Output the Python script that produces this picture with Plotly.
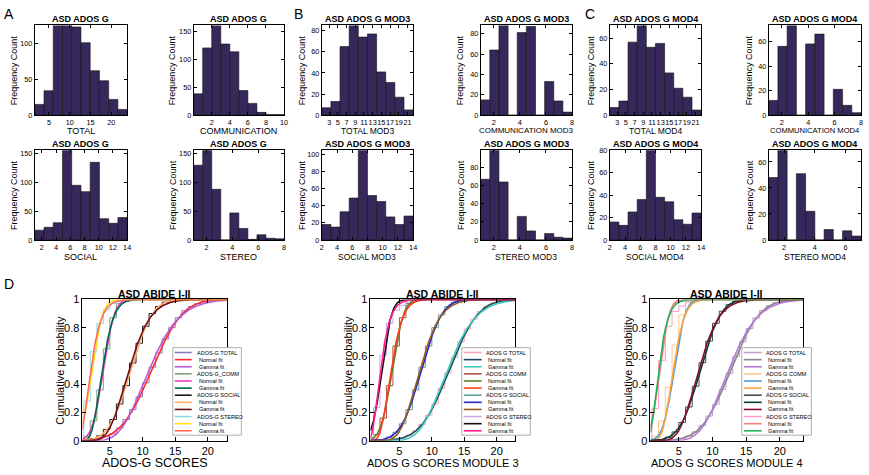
import math
import numpy as np
import plotly.graph_objects as go

W, H = 869, 475

# ---------------- DATA ----------------
# Histogram counts (10 bins each) read from panels A, B, C
A_TOTAL = [15, 34, 135, 132, 123, 101, 62, 48, 22, 8]
A_COMM = [38, 120, 165, 127, 113, 44, 21, 5, 1, 1]
A_SOCIAL = [17, 22, 30, 165, 95, 84, 135, 37, 29, 39]
A_STEREO = [130, 165, 88, 0, 47, 20, 1, 9, 3, 2]
B_TOTAL = [7, 13, 65, 88, 74, 77, 41, 31, 17, 5]
B_COMM = [15, 64, 92, 0, 81, 87, 0, 33, 14, 3]
B_SOCIAL = [18, 15, 33, 49, 110, 52, 45, 27, 18, 28]
B_STEREO = [67, 105, 64, 0, 26, 10, 0, 7, 3, 2]
C_TOTAL = [6, 11, 57, 72, 53, 56, 33, 21, 14, 4]
C_COMM = [12, 56, 76, 0, 58, 66, 0, 21, 8, 2]
C_SOCIAL = [16, 13, 25, 36, 85, 38, 34, 18, 14, 24]
C_STEREO = [48, 72, 0, 51, 22, 0, 8, 0, 7, 3]

# Score extent covered by the 10 histogram bins
A_RANGES = [(1.6, 23.8), (0, 10), (1, 14), (1, 8)]
B_RANGES = [(1.3, 22.3), (1, 8), (2, 14), (1, 8)]
C_RANGES = [(1.3, 22.3), (1, 8), (2, 14), (1, 7)]

# Empirical cumulative probabilities (panel D), first score and value at each integer score
D1_ECDF_START = [2, 1, 1, 1]   # TOTAL, COMM, SOCIAL, STEREO
D1_ECDF_TOTAL = [0.01, 0.02, 0.03, 0.05, 0.09, 0.15, 0.22, 0.31, 0.41, 0.52, 0.62, 0.72,
                 0.80, 0.87, 0.92, 0.95, 0.97, 0.985, 0.993, 0.997, 0.999, 1.0]
D1_ECDF_COMM = [0.03, 0.14, 0.36, 0.65, 0.87, 0.97, 0.99, 0.998, 1.0]
D1_ECDF_SOCIAL = [0.005, 0.015, 0.035, 0.08, 0.15, 0.26, 0.39, 0.55, 0.69, 0.81, 0.90,
                  0.95, 0.98, 0.99, 1.0]
D1_ECDF_STEREO = [0.28, 0.63, 0.83, 0.93, 0.97, 0.99, 0.996, 1.0]

D2_ECDF_START = [3, 1, 2, 1]
D2_ECDF_TOTAL = [0.004, 0.01, 0.02, 0.04, 0.07, 0.115, 0.18, 0.26, 0.37, 0.48, 0.59, 0.70,
                 0.79, 0.86, 0.915, 0.95, 0.974, 0.987, 0.994, 0.997, 1.0]
D2_ECDF_COMM = [0.044, 0.16, 0.39, 0.67, 0.87, 0.97, 0.995, 1.0]
D2_ECDF_SOCIAL = [0.009, 0.025, 0.06, 0.12, 0.22, 0.36, 0.52, 0.67, 0.80, 0.89, 0.95,
                  0.98, 0.993, 1.0]
D2_ECDF_STEREO = [0.236, 0.606, 0.831, 0.923, 0.958, 0.982, 0.993, 1.0]

D3_ECDF_START = [3, 1, 2, 1]
D3_ECDF_TOTAL = [0.003, 0.008, 0.017, 0.034, 0.063, 0.108, 0.174, 0.258, 0.363, 0.476,
                 0.595, 0.702, 0.794, 0.869, 0.921, 0.956, 0.977, 0.989, 0.995, 0.998, 1.0]
D3_ECDF_COMM = [0.032, 0.14, 0.378, 0.677, 0.891, 0.977, 0.997, 1.0]
D3_ECDF_SOCIAL = [0.009, 0.025, 0.062, 0.129, 0.239, 0.386, 0.552, 0.705, 0.831, 0.916,
                  0.963, 0.986, 0.996, 1.0]
D3_ECDF_STEREO = [0.227, 0.569, 0.81, 0.915, 0.953, 0.986, 1.0]

# Fitted distributions (order: TOTAL, COMM, SOCIAL, STEREO)
D1_NORM_MU = [11.4, 4.0, 8.2, 2.3]
D1_NORM_SD = [3.7, 1.35, 2.6, 1.3]
D1_GAM_K = [9.49, 8.78, 9.95, 3.13]
D1_GAM_TH = [1.20, 0.456, 0.824, 0.735]

D2_NORM_MU = [12.7, 3.9, 8.4, 2.3]
D2_NORM_SD = [3.5, 1.4, 2.5, 1.2]
D2_GAM_K = [13.17, 7.76, 11.29, 3.67]
D2_GAM_TH = [0.965, 0.503, 0.744, 0.626]

D3_NORM_MU = [12.7, 4.3, 8.2, 2.2]
D3_NORM_SD = [3.4, 1.3, 2.4, 1.1]
D3_GAM_K = [13.95, 10.94, 11.67, 4.0]
D3_GAM_TH = [0.910, 0.393, 0.702, 0.55]

HIST_TITLES = ["ASD ADOS G", "ASD ADOS G MOD3", "ASD ADOS G MOD4"]
HIST_XLABELS = [
    ["TOTAL", "COMMUNICATION", "SOCIAL", "STEREO"],
    ["TOTAL MOD3", "COMMUNICATION MOD3", "SOCIAL MOD3", "STEREO MOD3"],
    ["TOTAL MOD4", "COMMUNICATION MOD4", "SOCIAL MOD4", "STEREO MOD4"],
]
D_XLABELS = ["ADOS-G SCORES", "ADOS G SCORES MODULE 3", "ADOS G SCORES MODULE 4"]
D_LEGENDS = [
    ["ADOS-G TOTAL", "Normal fit", "Gamma fit", "ADOS-G_COMM", "Normal fit", "Gamma fit",
     "ADOS-G SOCIAL", "Normal fit", "Gamma fit", "ADOS-G STEREO", "Normal fit", "Gamma fit"],
    ["ADOS G TOTAL", "Normal fit", "Gamma fit", "ADOS G COMM", "Normal fit", "Gamma fit",
     "ADOS G SOCIAL", "Normal fit", "Gamma fit", "ADOS G STEREO", "Normal fit", "Gamma fit"],
    ["ADOS G TOTAL", "Normal fit", "Gamma fit", "ADOS G COMM", "Normal fit", "Gamma fit",
     "ADOS G SOCIAL", "Normal fit", "Gamma fit", "ADOS G STEREO", "Normal fit", "Gamma fit"],
]

# ---------------- STYLE ----------------
FONT = "Liberation Sans, Arial, sans-serif"
BAR_COLOR = "#36285a"
D_COLORS = [
    # (step, normal, gamma) for TOTAL, COMM, SOCIAL, STEREO
    [("#8e7cc3", "#ff2a2a", "#b35cd6"), ("#7f9f7f", "#e83fc8", "#00664f"),
     ("#1a1a1a", "#ffb366", "#6b0f1a"), ("#8fd8e8", "#ffe019", "#ff6b5b")],
    [("#f4a6b8", "#1d4a5c", "#3cc8c0"), ("#b0504a", "#5d7f2e", "#ff3b1a"),
     ("#5f9f9a", "#2525c8", "#9b5a1f"), ("#c8a8e8", "#111111", "#ff1a8c")],
    [("#c0a0c8", "#888888", "#b57ad6"), ("#ffc78a", "#4a98d8", "#ffa53a"),
     ("#4a4a4a", "#003d2e", "#8a0f2a"), ("#ff9cc8", "#ff7a7a", "#1db35a")],
]


def fx(p):
    return p / W


def fy(p):
    return 1 - p / H


def norm_cdf(x, mu, sd):
    return 0.5 * (1 + math.erf((x - mu) / (sd * math.sqrt(2))))


def gamma_p(a, x):
    if x <= 0:
        return 0.0
    if x < a + 1:
        term = 1.0 / a
        s = term
        n = 1
        while abs(term) > 1e-12 * abs(s) and n < 500:
            term *= x / (a + n)
            s += term
            n += 1
        return s * math.exp(-x + a * math.log(x) - math.lgamma(a))
    b = x + 1 - a
    c = 1e300
    d = 1 / b
    h = d
    for i in range(1, 500):
        an = -i * (i - a)
        b += 2
        d = an * d + b
        if abs(d) < 1e-300:
            d = 1e-300
        c = b + an / c
        if abs(c) < 1e-300:
            c = 1e-300
        d = 1 / d
        de = d * c
        h *= de
        if abs(de - 1) < 1e-12:
            break
    q = math.exp(-x + a * math.log(x) - math.lgamma(a)) * h
    return 1 - q


fig = go.Figure()
layout = dict(
    width=W, height=H, autosize=False,
    margin=dict(l=0, r=0, t=0, b=0),
    paper_bgcolor="white", plot_bgcolor="white",
    showlegend=False,
    font=dict(family=FONT, color="black"),
)
annotations = []
shapes = []

hist_sets = [
    (A_TOTAL, A_COMM, A_SOCIAL, A_STEREO),
    (B_TOTAL, B_COMM, B_SOCIAL, B_STEREO),
    (C_TOTAL, C_COMM, C_SOCIAL, C_STEREO),
]
hist_ranges = [A_RANGES, B_RANGES, C_RANGES]
hist_ymax = [[125, 160, 156, 156], [85, 88, 105, 99], [70, 73, 80, 69]]
hist_yticks = [
    [[0, 50, 100], [0, 50, 100, 150], [0, 50, 100, 150], [0, 50, 100, 150]],
    [[0, 20, 40, 60, 80], [0, 20, 40, 60, 80], [0, 20, 40, 60, 80, 100], [0, 20, 40, 60, 80]],
    [[0, 20, 40, 60], [0, 20, 40, 60], [0, 20, 40, 60, 80], [0, 20, 40, 60]],
]
odd = list(range(3, 22, 2))
hist_xticks = [
    [[5, 10, 15, 20], [2, 4, 6, 8, 10], [2, 4, 6, 8, 10, 12, 14], [2, 4, 6, 8]],
    [odd, [2, 4, 6, 8], [2, 4, 6, 8, 10, 12, 14], [2, 4, 6, 8]],
    [odd, [2, 4, 6, 8], [2, 4, 6, 8, 10, 12, 14], [2, 4, 6]],
]
xlab_size = [[9, 9, 9, 9], [8.5, 8, 8.5, 8.5], [8.5, 7.6, 8.5, 8.5]]
col_px = [[(33, 126), (193, 284)], [(322, 414), (482, 574)], [(612, 704), (772, 865)]]
row_py = [(20, 112), (148, 240)]
ylab_px = [[12, 172], [302, 462], [593, 753]]
title_py = [13, 142]
xlab_py = [128, 258]

ax_i = 0


def axname(i):
    return "" if i == 1 else str(i)


for p in range(3):
    for h in range(4):
        ax_i += 1
        r, c = divmod(h, 2)
        x0, x1 = col_px[p][c]
        y0, y1 = row_py[r]
        counts = hist_sets[p][h]
        lo, hi = hist_ranges[p][h]
        bw = (hi - lo) / len(counts)
        centers = [lo + bw * (i + 0.5) for i in range(len(counts))]
        fig.add_trace(go.Bar(
            x=centers, y=counts, width=bw,
            marker=dict(color=BAR_COLOR, line=dict(color="#111111", width=0.6)),
            xaxis="x" + axname(ax_i), yaxis="y" + axname(ax_i), hoverinfo="skip",
        ))
        layout["xaxis" + axname(ax_i)] = dict(
            domain=[fx(x0), fx(x1)], anchor="y" + axname(ax_i), range=[lo, hi],
            showline=True, linecolor="black", linewidth=0.8, mirror="ticks",
            ticks="inside", ticklen=3, tickwidth=0.6, tickcolor="black", tickangle=0,
            tickvals=hist_xticks[p][h], tickfont=dict(size=7.3, family=FONT),
            showgrid=False, zeroline=False, fixedrange=True,
        )
        layout["yaxis" + axname(ax_i)] = dict(
            domain=[fy(y1), fy(y0)], anchor="x" + axname(ax_i), range=[0, hist_ymax[p][h]],
            showline=True, linecolor="black", linewidth=0.8, mirror="ticks",
            ticks="inside", ticklen=3, tickwidth=0.6, tickcolor="black",
            tickvals=hist_yticks[p][h], tickfont=dict(size=7.3, family=FONT),
            showgrid=False, zeroline=False, fixedrange=True,
        )
        annotations.append(dict(
            text="<b>%s</b>" % HIST_TITLES[p], x=fx((x0 + x1) / 2), y=fy(title_py[r]),
            xref="paper", yref="paper", showarrow=False, font=dict(size=9, family=FONT),
            xanchor="center", yanchor="middle"))
        annotations.append(dict(
            text=HIST_XLABELS[p][h], x=fx((x0 + x1) / 2), y=fy(xlab_py[r]),
            xref="paper", yref="paper", showarrow=False,
            font=dict(size=xlab_size[p][h], family=FONT),
            xanchor="center", yanchor="middle"))
        annotations.append(dict(
            text="Frequency Count", x=fx(ylab_px[p][c]), y=fy((y0 + y1) / 2), textangle=-90,
            xref="paper", yref="paper", showarrow=False, font=dict(size=9, family=FONT),
            xanchor="center", yanchor="middle"))

# Panel letters
for letter, lx, ly in [("A", 7, 8), ("B", 299, 8), ("C", 592, 8), ("D", 7, 285)]:
    annotations.append(dict(text=letter, x=fx(lx), y=fy(ly), xref="paper", yref="paper",
                            showarrow=False, font=dict(size=14, family=FONT),
                            xanchor="center", yanchor="middle"))

# ---------------- Panel D ----------------
d_px = [(81, 227), (371, 517), (653, 807)]
d_py = (301, 446)
d_xrange = [(0.8, 23.0), (0.53, 22.9), (0.8, 23.5)]
d_params = [
    (D1_NORM_MU, D1_NORM_SD, D1_GAM_K, D1_GAM_TH),
    (D2_NORM_MU, D2_NORM_SD, D2_GAM_K, D2_GAM_TH),
    (D3_NORM_MU, D3_NORM_SD, D3_GAM_K, D3_GAM_TH),
]
d_ecdf = [
    (D1_ECDF_START, [D1_ECDF_TOTAL, D1_ECDF_COMM, D1_ECDF_SOCIAL, D1_ECDF_STEREO]),
    (D2_ECDF_START, [D2_ECDF_TOTAL, D2_ECDF_COMM, D2_ECDF_SOCIAL, D2_ECDF_STEREO]),
    (D3_ECDF_START, [D3_ECDF_TOTAL, D3_ECDF_COMM, D3_ECDF_SOCIAL, D3_ECDF_STEREO]),
]
d_ylab_px = [58, 348, 630]
d_xlab_size = [12.5, 11, 11]
leg_box = [(172, 241), (463, 532), (745, 815)]
leg_line = [(174, 191), (465, 483), (747, 765)]
leg_text = [194, 485, 767]
leg_y0, leg_dy = 355.5, 7.3

for p in range(3):
    ax_i += 1
    x0, x1 = d_px[p]
    y0, y1 = d_py
    xa, ya = "x" + axname(ax_i), "y" + axname(ax_i)
    lo, hi = d_xrange[p]
    grid = np.linspace(lo, hi, 400)
    mu, sd, gk, gth = d_params[p]
    starts, ecdfs = d_ecdf[p]
    for s in range(4):
        vals = ecdfs[s]
        scores = [starts[s] + i for i in range(len(vals))]
        sx = [lo] + scores + [hi]
        sy = [0.0] + list(vals) + [vals[-1]]
        cstep, cnorm, cgam = D_COLORS[p][s]
        fig.add_trace(go.Scatter(x=sx, y=sy, mode="lines", line=dict(color=cstep, width=1, shape="hv"),
                                 xaxis=xa, yaxis=ya, hoverinfo="skip", cliponaxis=True))
    for s in range(4):
        cstep, cnorm, cgam = D_COLORS[p][s]
        ny = [norm_cdf(v, mu[s], sd[s]) for v in grid]
        gy = [gamma_p(gk[s], v / gth[s]) for v in grid]
        fig.add_trace(go.Scatter(x=grid, y=ny, mode="lines", line=dict(color=cnorm, width=1.6),
                                 xaxis=xa, yaxis=ya, hoverinfo="skip"))
        fig.add_trace(go.Scatter(x=grid, y=gy, mode="lines", line=dict(color=cgam, width=1.6),
                                 xaxis=xa, yaxis=ya, hoverinfo="skip"))
    layout["xaxis" + axname(ax_i)] = dict(
        domain=[fx(x0), fx(x1)], anchor=ya, range=[lo, hi],
        showline=True, linecolor="black", linewidth=0.8, mirror="ticks",
        ticks="inside", ticklen=4, tickwidth=0.6, tickcolor="black",
        tickvals=[5, 10, 15, 20], tickfont=dict(size=11, family=FONT),
        showgrid=False, zeroline=False, fixedrange=True,
    )
    layout["yaxis" + axname(ax_i)] = dict(
        domain=[fy(y1), fy(y0)], anchor=xa, range=[0, 1],
        showline=True, linecolor="black", linewidth=0.8, mirror="ticks",
        ticks="inside", ticklen=4, tickwidth=0.6, tickcolor="black",
        tickvals=[0, 0.2, 0.4, 0.6, 0.8, 1], ticktext=["0", "0.2", "0.4", "0.6", "0.8", "1"],
        tickfont=dict(size=11, family=FONT),
        showgrid=False, zeroline=False, fixedrange=True,
    )
    annotations.append(dict(
        text="<b>ASD ABIDE I-II</b>", x=fx((x0 + x1) / 2), y=fy(295),
        xref="paper", yref="paper", showarrow=False, font=dict(size=10.5, family=FONT),
        xanchor="center", yanchor="middle"))
    annotations.append(dict(
        text=D_XLABELS[p], x=fx((x0 + x1) / 2), y=fy(469),
        xref="paper", yref="paper", showarrow=False, font=dict(size=d_xlab_size[p], family=FONT),
        xanchor="center", yanchor="middle"))
    annotations.append(dict(
        text="Cumulative probability", x=fx(d_ylab_px[p]), y=fy((y0 + y1) / 2), textangle=-90,
        xref="paper", yref="paper", showarrow=False, font=dict(size=11, family=FONT),
        xanchor="center", yanchor="middle"))
    # legend
    bx0, bx1 = leg_box[p]
    shapes.append(dict(type="rect", xref="paper", yref="paper", x0=fx(bx0), x1=fx(bx1),
                       y0=fy(leg_y0 + 11 * leg_dy + 4.5), y1=fy(leg_y0 - 5),
                       fillcolor="white", line=dict(color="#9a9a9a", width=0.8), layer="above"))
    for k in range(12):
        s, j = divmod(k, 3)
        col = D_COLORS[p][s][j]
        yy = leg_y0 + k * leg_dy
        shapes.append(dict(type="line", xref="paper", yref="paper",
                           x0=fx(leg_line[p][0]), x1=fx(leg_line[p][1]), y0=fy(yy), y1=fy(yy),
                           line=dict(color=col, width=1.6), layer="above"))
        annotations.append(dict(
            text=D_LEGENDS[p][k], x=fx(leg_text[p] + (0 if j == 0 else 2.5)), y=fy(yy),
            xref="paper", yref="paper", showarrow=False, font=dict(size=5.5, family=FONT),
            xanchor="left", yanchor="middle"))

layout["annotations"] = annotations
layout["shapes"] = shapes
fig.update_layout(**layout)
fig.write_html("out.html", config={"displayModeBar": False},
               post_script="document.body.style.margin='0';document.body.style.padding='0';")
